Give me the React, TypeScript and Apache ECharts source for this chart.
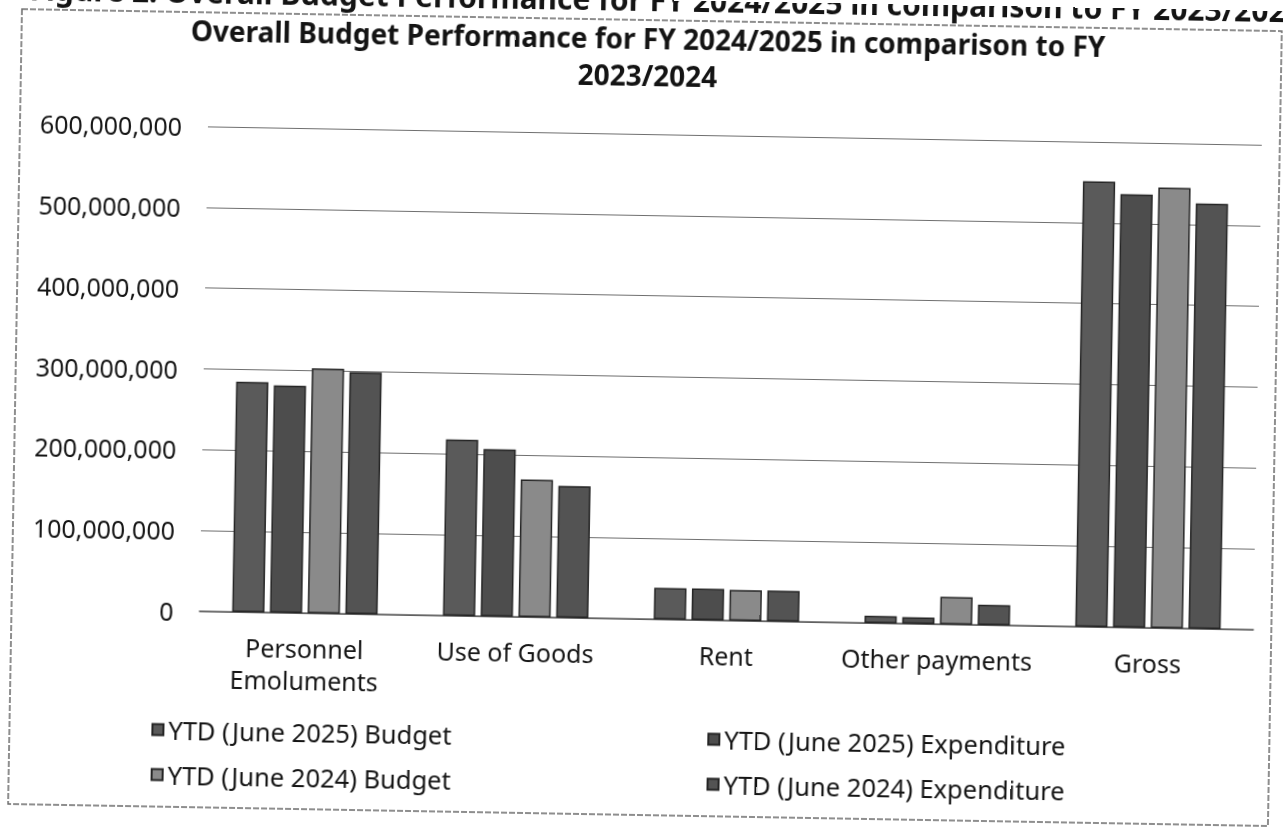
import React, { useEffect, useRef } from "react";
import * as echarts from "echarts";

const categories = ["Personnel\nEmoluments", "Use of Goods", "Rent", "Other payments", "Gross"];
const seriesNames = [
  "YTD (June 2025) Budget",
  "YTD (June 2025) Expenditure",
  "YTD (June 2024) Budget",
  "YTD (June 2024) Expenditure",
];
const budget2025 = [285e6, 218e6, 39e6, 9e6, 551e6];
const expenditure2025 = [281e6, 207e6, 39e6, 8e6, 536e6];
const budget2024 = [303e6, 170e6, 38e6, 34e6, 545e6];
const expenditure2024 = [299e6, 163e6, 38e6, 25e6, 526e6];
const yMin = 0;
const yMax = 600e6;
const yStep = 100e6;
const caption = "Figure 2: Overall Budget Performance for FY 2024/2025 in comparison to FY 2023/2024";
const chartTitle = "Overall Budget Performance for FY 2024/2025 in comparison to FY\n2023/2024";
const barColors = ["#5a5a5a", "#4d4d4d", "#8a8a8a", "#535353"];

const FONT = "Noto Sans";

export default function App() {
  const ref = useRef<HTMLDivElement>(null);
  useEffect(() => {
    if (!ref.current) return;
    const chart = echarts.init(ref.current, null, { renderer: "svg" });
    const values = [budget2025, expenditure2025, budget2024, expenditure2024];
    const legendText = { fontFamily: FONT, fontSize: 25.5, color: "#151515", lineHeight: 30 };
    chart.setOption({
      animation: false,
      backgroundColor: "#ffffff",
      title: {
        text: chartTitle,
        left: "center",
        top: 19,
        padding: [0, 0, 0, 33],
        textStyle: { fontFamily: FONT, fontWeight: "bold", fontSize: 28, lineHeight: 37, color: "#141414" },
      },
      legend: [
        {
          data: [seriesNames[0], seriesNames[2]],
          orient: "vertical",
          left: 157,
          top: 723,
          padding: 0,
          itemGap: 15,
          itemWidth: 11,
          itemHeight: 11,
          icon: "rect",
          textStyle: legendText,
        },
        {
          data: [seriesNames[1], seriesNames[3]],
          orient: "vertical",
          left: 713,
          top: 723,
          padding: 0,
          itemGap: 15,
          itemWidth: 11,
          itemHeight: 11,
          icon: "rect",
          textStyle: legendText,
        },
      ],
      grid: { left: 203, right: 26, top: 134, bottom: 209, containLabel: false, outerBoundsMode: "none" },
      xAxis: {
        type: "category",
        data: categories,
        axisTick: { show: false },
        axisLine: { show: true, lineStyle: { color: "#5a5a5a", width: 1.5 } },
        axisLabel: { fontFamily: FONT, fontSize: 25, color: "#151515", lineHeight: 32, margin: 19, interval: 0 },
      },
      yAxis: {
        type: "value",
        min: yMin,
        max: yMax,
        interval: yStep,
        axisLine: { show: false },
        axisTick: { show: false },
        splitLine: { lineStyle: { color: "#6f6f6f", width: 1.2 } },
        axisLabel: {
          fontFamily: FONT,
          fontSize: 25,
          color: "#151515",
          margin: 26,
          formatter: (v: number) => v.toLocaleString("en-US"),
        },
      },
      graphic: [
        {
          type: "rect",
          shape: { x: 15, y: 20, width: 1260, height: 795 },
          style: { fill: "none", stroke: "#6a6a6a", lineWidth: 1.5, lineDash: [6, 2] },
          silent: true,
        },
        {
          type: "text",
          x: 659,
          y: -1,
          style: {
            text: caption,
            fontFamily: FONT,
            fontWeight: "bold",
            fontSize: 30,
            fill: "#141414",
            textAlign: "center",
            textVerticalAlign: "middle",
          },
          silent: true,
        },
      ],
      series: values.map((d, i) => ({
        name: seriesNames[i],
        type: "bar",
        data: d,
        barGap: "17%",
        barCategoryGap: "31%",
        itemStyle: { color: barColors[i], borderColor: "#252525", borderWidth: 1.5 },
      })),
    });
    return () => chart.dispose();
  }, []);
  return (
    <div
      ref={ref}
      style={{
        position: "fixed",
        left: 0,
        top: 0,
        width: 1283,
        height: 828,
        transform: "rotate(1deg)",
        transformOrigin: "50% 50%",
      }}
    />
  );
}
